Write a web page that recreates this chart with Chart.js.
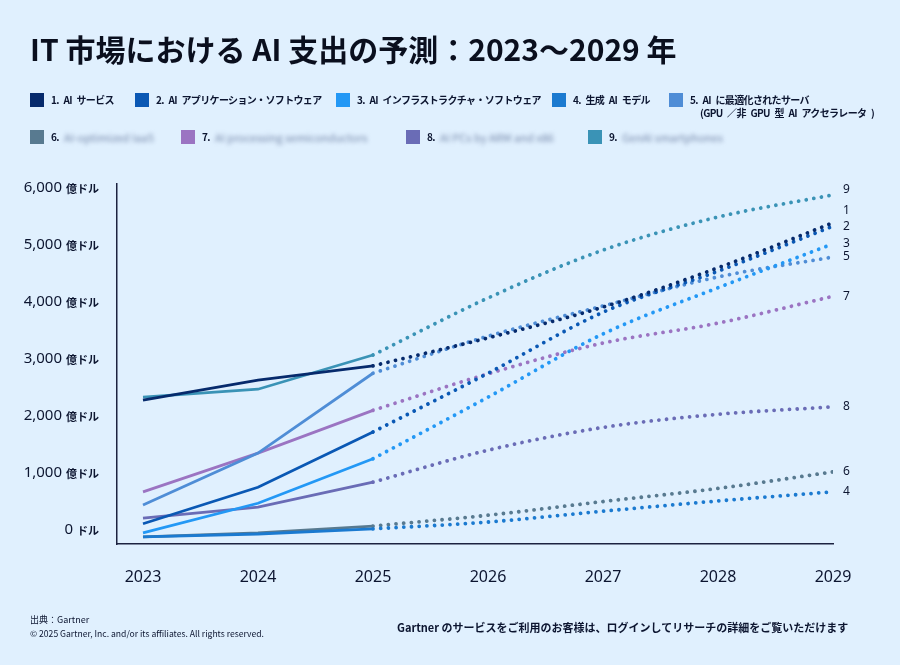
<!DOCTYPE html>
<html>
<head>
<meta charset="utf-8">
<script src="https://cdn.jsdelivr.net/npm/chart.js@4"></script>
<style>
  html,body{margin:0;padding:0;}
  body{width:900px;height:665px;background:#e0f0fe;position:relative;overflow:hidden;font-family:"Noto Sans CJK JP","Noto Sans",sans-serif;color:#0c1530;}
  #c{position:absolute;left:0;top:0;}
  .title{position:absolute;left:30px;top:26px;font-size:30px;font-weight:700;white-space:nowrap;color:#0a0f1e;}
  .lg{position:absolute;font-size:10px;font-weight:700;white-space:nowrap;line-height:14px;color:#0c1530;letter-spacing:-0.65px;word-spacing:3px;}
  .sw{position:absolute;width:14px;height:14px;}
  .blur{filter:blur(2px);color:#7789ab;font-weight:400;font-size:11px;letter-spacing:0;word-spacing:0;}
  .foot{position:absolute;white-space:nowrap;}
</style>
</head>
<body>
<canvas id="c" width="900" height="665"></canvas>
<div class="title">IT 市場における AI 支出の予測：2023〜2029 年</div>
<div id="legend"></div>
<div class="foot" style="left:30px;top:613px;font-size:9px;">出典：Gartner</div>
<div class="foot" style="left:30px;top:627px;font-size:8.6px;">© 2025 Gartner, Inc. and/or its affiliates. All rights reserved.</div>
<div class="foot" style="left:397px;top:619px;font-size:11px;font-weight:700;">Gartner のサービスをご利用のお客様は、ログインしてリサーチの詳細をご覧いただけます</div>
<script>
// ---- data ----
const years = [2023, 2024, 2025, 2026, 2027, 2028, 2029];
const actualCount = 3; // 2023-2025 actual, 2025-2029 forecast
const seriesNames = [
  "1. AI サービス",
  "2. AI アプリケーション・ソフトウェア",
  "3. AI インフラストラクチャ・ソフトウェア",
  "4. 生成 AI モデル",
  "5. AI に最適化されたサーバ",
  "6.",
  "7.",
  "8.",
  "9."
];
const blurredNames = ["", "", "", "", "", "AI-optimized IaaS", "AI processing semiconductors", "AI PCs by ARM and x86", "GenAI smartphones"];
const s1 = [2280, 2630, 2880, 3370, 3910, 4600, 5390];
const s2 = [110, 750, 1720, 2750, 3820, 4540, 5330];
const s3 = [-50, 470, 1250, 2330, 3440, 4250, 5020];
const s4 = [-120, -70, 20, 140, 330, 510, 670];
const s5 = [440, 1350, 2750, 3400, 3930, 4440, 4790];
const s6 = [-120, -50, 70, 260, 500, 730, 1020];
const s7 = [670, 1350, 2100, 2740, 3280, 3630, 4100];
const s8 = [210, 400, 840, 1400, 1800, 2030, 2160];
const s9 = [2330, 2470, 3070, 4070, 4910, 5490, 5880];
const yTicks = [0, 1000, 2000, 3000, 4000, 5000, 6000];
const yTickNums = ["0", "1,000", "2,000", "3,000", "4,000", "5,000", "6,000"];
const yUnit = "億ドル";
const yUnitZero = "ドル";
const endLabels = ["1", "2", "3", "4", "5", "6", "7", "8", "9"];

// ---- style ----
const colors = ["#062a6c", "#0a58b4", "#2398f5", "#1b7ad0", "#4f8dd6", "#587a90", "#9b74c2", "#6a6cb6", "#3a93b6"];
const labelNudge = [-12, 0, 0, 0, 0, 0, 0, 0, -5];
const allSeries = [s1, s2, s3, s4, s5, s6, s7, s8, s9];

// legend
const legendPos = [
  [30, 93], [135, 93], [336, 93], [552, 93], [669, 93],
  [30, 130], [181, 130], [406, 130], [588, 130]
];
const lg = document.getElementById('legend');
seriesNames.forEach((n, i) => {
  const [x, y] = legendPos[i];
  const sw = document.createElement('div');
  sw.className = 'sw'; sw.style.left = x + 'px'; sw.style.top = y + 'px'; sw.style.background = colors[i];
  lg.appendChild(sw);
  const t = document.createElement('div');
  t.className = 'lg'; t.style.left = (x + 21) + 'px'; t.style.top = y + 'px';
  t.textContent = n;
  lg.appendChild(t);
  if (blurredNames[i]) {
    const b = document.createElement('div');
    b.className = 'lg blur'; b.style.left = (x + 34) + 'px'; b.style.top = y + 'px';
    b.textContent = blurredNames[i];
    lg.appendChild(b);
  }
});
const sub = document.createElement('div');
sub.className = 'lg'; sub.style.left = '700px'; sub.style.top = '106px';
sub.textContent = '(GPU ／非 GPU 型 AI アクセラレータ )';
lg.appendChild(sub);

// datasets
const datasets = [];
allSeries.forEach((s, i) => {
  datasets.push({
    data: years.slice(0, actualCount).map((y, k) => ({x: y, y: s[k]})),
    borderColor: colors[i], borderWidth: 2.8, pointRadius: 0, tension: 0, fill: false
  });
});
allSeries.forEach((s, i) => {
  datasets.push({
    data: years.slice(actualCount - 1).map((y, k) => ({x: y, y: s[k + actualCount - 1]})),
    borderColor: colors[i], borderWidth: 3.8, pointRadius: 0, fill: false,
    cubicInterpolationMode: 'monotone', borderDash: [0.01, 7.7], borderCapStyle: 'round'
  });
});

const labelPlugin = {
  id: 'labels',
  afterDraw(chart) {
    const ctx = chart.ctx;
    const xs = chart.scales.x, ys = chart.scales.y;
    ctx.save();
    ctx.fillStyle = '#0c1530';
    // y tick labels
    yTicks.forEach((v, i) => {
      const py = ys.getPixelForValue(v);
      const unit = v === 0 ? yUnitZero : yUnit;
      ctx.font = '700 11px "Noto Sans CJK JP"';
      ctx.textAlign = 'right'; ctx.textBaseline = 'middle';
      ctx.fillText(unit, 99, py + 1);
      const uw = ctx.measureText(unit).width;
      ctx.font = '400 15px "Noto Sans"';
      ctx.fillText(yTickNums[i], 99 - uw - 4, py);
    });
    // x tick labels
    ctx.font = '400 16px "Noto Sans"';
    ctx.textAlign = 'center'; ctx.textBaseline = 'middle';
    years.forEach(y => ctx.fillText(String(y), xs.getPixelForValue(y), 577));
    // end labels
    ctx.font = '400 12px "Noto Sans"';
    ctx.textAlign = 'left';
    allSeries.forEach((s, i) => {
      const py = ys.getPixelForValue(s[s.length - 1]) + labelNudge[i];
      ctx.fillText(endLabels[i], chart.chartArea.right + 10, py);
    });
    ctx.restore();
  }
};

new Chart(document.getElementById('c'), {
  type: 'line',
  data: {datasets},
  options: {
    responsive: false, animation: false, devicePixelRatio: 1,
    layout: {padding: {left: 109, top: 184, right: 67, bottom: 113}},
    plugins: {legend: {display: false}, tooltip: {enabled: false}},
    scales: {
      x: {type: 'linear', min: 2022.774, max: 2029, grid: {display: false}, ticks: {display: false},
          border: {display: true, color: '#1c2240', width: 1.5}},
      y: {min: -245, max: 6070, grid: {display: false}, ticks: {display: false},
          border: {display: true, color: '#1c2240', width: 1.5}}
    }
  },
  plugins: [labelPlugin]
});
</script>
</body>
</html>
